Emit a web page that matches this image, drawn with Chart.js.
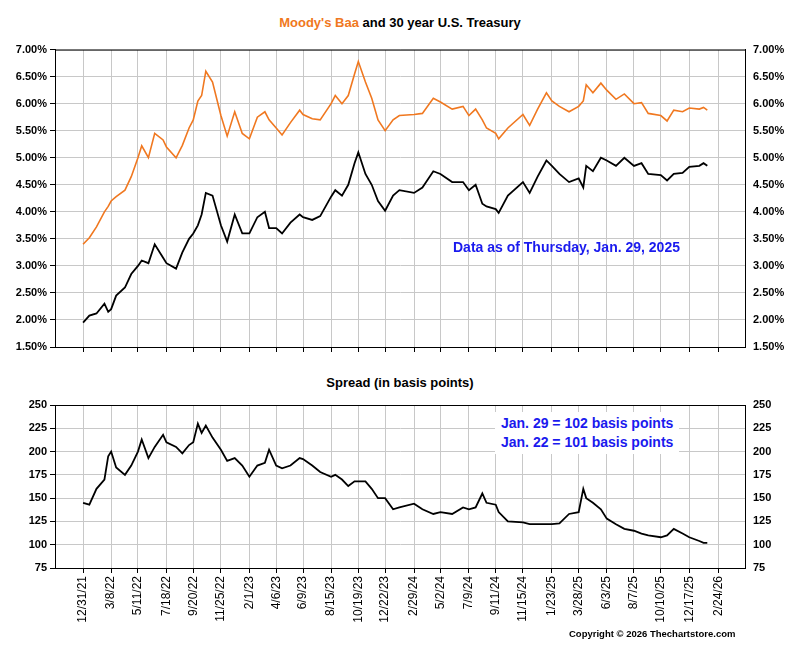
<!DOCTYPE html>
<html><head><meta charset="utf-8">
<script src="https://cdn.jsdelivr.net/npm/chart.js@4"></script>
<style>
body{margin:0;background:#fff;font-family:"Liberation Sans",Arial,sans-serif;}
#wrap{position:relative;width:800px;height:649px;}
canvas{position:absolute;left:0;}
.t{position:absolute;font-weight:bold;white-space:nowrap;}
</style></head><body><div id="wrap">
<div class="t" style="left:0;width:800px;text-align:center;top:15px;font-size:13px;"><span style="color:#f07820">Moody's Baa</span> and 30 year U.S. Treasury</div>
<canvas id="top" width="800" height="320" style="top:40px"></canvas>
<div class="t" style="left:0;width:800px;text-align:center;top:375px;font-size:13px;">Spread (in basis points)</div>
<canvas id="bot" width="800" height="235" style="top:395px"></canvas>
<div class="t" style="left:453px;top:239px;font-size:14px;color:#1a1aee">Data as of Thursday, Jan. 29, 2025</div>
<div class="t" style="left:495px;top:412px;font-size:14px;color:#1a1aee;background:#fff;padding:2px 6px;line-height:19px">Jan. 29 = 102 basis points<br>Jan. 22 = 101 basis points</div>
<div class="t" style="left:569px;top:628px;font-size:9.5px;">Copyright © 2026 Thechartstore.com</div>
</div>
<script>
const tickLabels = ['12/31/21','3/8/22','5/11/22','7/18/22','9/20/22','11/25/22','2/1/23','4/6/23','6/9/23','8/15/23','10/19/23','12/22/23','2/29/24','5/2/24','7/9/24','9/11/24','11/15/24','1/23/25','3/28/25','6/3/25','8/7/25','10/10/25','12/17/25','2/24/26'];

const dates = ['2021-12-31','2022-01-15','2022-02-01','2022-02-20','2022-03-01','2022-03-08','2022-03-20','2022-04-10','2022-04-25','2022-05-11','2022-05-20','2022-06-05','2022-06-20','2022-07-10','2022-07-18','2022-08-10','2022-08-25','2022-09-10','2022-09-20','2022-10-01','2022-10-10','2022-10-20','2022-11-05','2022-11-25','2022-12-10','2022-12-28','2023-01-15','2023-02-01','2023-02-20','2023-03-10','2023-03-20','2023-04-06','2023-04-20','2023-05-10','2023-06-01','2023-06-09','2023-07-01','2023-07-20','2023-08-15','2023-08-25','2023-09-10','2023-09-25','2023-10-10','2023-10-19','2023-11-05','2023-11-20','2023-12-05','2023-12-22','2024-01-10','2024-01-25','2024-02-29','2024-03-20','2024-04-15','2024-05-02','2024-05-30','2024-06-25','2024-07-09','2024-07-25','2024-08-10','2024-08-20','2024-09-11','2024-09-18','2024-10-10','2024-11-15','2024-12-01','2024-12-20','2025-01-10','2025-01-23','2025-02-10','2025-03-05','2025-03-28','2025-04-08','2025-04-15','2025-05-01','2025-05-20','2025-06-03','2025-06-25','2025-07-15','2025-08-07','2025-08-25','2025-09-10','2025-10-10','2025-10-25','2025-11-10','2025-12-01','2025-12-17','2026-01-10','2026-01-20','2026-01-29'];

const treasury = [1.95,2.08,2.12,2.30,2.15,2.20,2.45,2.60,2.85,3.00,3.10,3.05,3.40,3.15,3.05,2.95,3.25,3.50,3.60,3.75,3.95,4.35,4.30,3.75,3.45,3.95,3.60,3.60,3.90,4.00,3.70,3.70,3.60,3.80,3.95,3.90,3.85,3.92,4.28,4.40,4.30,4.50,4.90,5.10,4.70,4.50,4.20,4.02,4.30,4.40,4.35,4.45,4.75,4.70,4.55,4.55,4.40,4.50,4.15,4.10,4.05,3.98,4.30,4.55,4.35,4.65,4.95,4.85,4.70,4.55,4.62,4.45,4.85,4.75,5.00,4.95,4.85,5.00,4.85,4.90,4.70,4.68,4.58,4.70,4.72,4.83,4.85,4.90,4.85];

const baa = [3.40,3.52,3.72,4.00,4.10,4.20,4.28,4.40,4.65,5.00,5.22,5.00,5.45,5.33,5.20,5.00,5.23,5.55,5.70,6.05,6.15,6.60,6.40,5.78,5.40,5.85,5.45,5.35,5.75,5.85,5.70,5.55,5.42,5.65,5.88,5.80,5.72,5.70,6.00,6.15,6.00,6.15,6.55,6.78,6.40,6.10,5.70,5.50,5.70,5.78,5.80,5.82,6.10,6.03,5.90,5.95,5.78,5.90,5.70,5.55,5.45,5.35,5.55,5.80,5.60,5.90,6.20,6.05,5.95,5.85,5.95,6.05,6.35,6.20,6.38,6.25,6.08,6.18,6.00,6.02,5.82,5.78,5.68,5.88,5.85,5.92,5.90,5.93,5.88];

const spread = [145,143,160,170,195,200,183,175,185,200,213,193,205,218,210,205,198,207,210,230,220,228,215,202,190,193,185,173,185,188,202,185,182,185,193,192,185,178,173,175,170,163,168,168,168,160,150,150,138,140,144,138,133,135,133,140,138,140,155,145,143,135,125,124,122,122,122,122,123,133,135,160,150,145,138,128,122,117,115,112,110,108,110,117,112,108,104,102,102];

const DAY0 = Date.UTC(2021, 11, 31);
function dayOf(s) {
  let y, m, d;
  if (s.includes('-')) { [y, m, d] = s.split('-').map(Number); }
  else { [m, d, y] = s.split('/').map(Number); y += 2000; }
  return Math.round((Date.UTC(y, m - 1, d) - DAY0) / 864e5);
}
const tickDays = tickLabels.map(dayOf);
const xs = dates.map(dayOf);
const pts = vals => vals.map((v, i) => ({ x: xs[i], y: v }));

const font = { family: '"Liberation Sans", Arial', size: 11, weight: 'bold' };
const gridCol = '#c8c8c8';

const boxPlugin = {
  id: 'box',
  afterDraw(c) {
    const a = c.chartArea, g = c.ctx;
    g.save(); g.strokeStyle = '#000'; g.lineWidth = 1;
    g.strokeRect(a.left + 0.5, a.top + 0.5, a.width, a.height);
    g.restore();
  }
};

function xAxis(showLabels, height) {
  return {
    type: 'linear', min: -67, max: 1580,
    afterBuildTicks: ax => { ax.ticks = tickDays.map(v => ({ value: v })); },
    afterFit: ax => { ax.height = height; },
    ticks: {
      display: showLabels, autoSkip: false, maxRotation: 90, minRotation: 90,
      color: '#000', font: { family: '"Liberation Sans", Arial', size: 12 },
      callback: v => tickLabels[tickDays.indexOf(v)]
    },
    grid: { color: gridCol, drawTicks: true, tickLength: 5, tickColor: '#000' },
    border: { color: '#000' }
  };
}
function yAxis(pos, min, max, step, fmt) {
  return {
    position: pos, min, max,
    afterFit: ax => { ax.width = 55; },
    ticks: { stepSize: step, color: '#000', font, callback: fmt },
    grid: { display: pos === 'left', color: gridCol, tickColor: '#000', tickLength: 5 },
    border: { color: '#000' }
  };
}

const pct = v => v.toFixed(2) + '%';

new Chart(document.getElementById('top'), {
  type: 'line',
  data: {
    datasets: [
      { data: pts(baa), borderColor: '#f07820', borderWidth: 1.6, pointRadius: 0, tension: 0, yAxisID: 'y' },
      { data: pts(treasury), borderColor: '#000', borderWidth: 1.8, pointRadius: 0, tension: 0, yAxisID: 'y' }
    ]
  },
  options: {
    responsive: false, animation: false,
    layout: { padding: { top: 9 } },
    plugins: { legend: { display: false }, tooltip: { enabled: false } },
    scales: {
      x: xAxis(false, 13),
      y: yAxis('left', 1.5, 7, 0.5, pct),
      y2: yAxis('right', 1.5, 7, 0.5, pct)
    }
  },
  plugins: [boxPlugin]
});

new Chart(document.getElementById('bot'), {
  type: 'line',
  data: {
    datasets: [
      { data: pts(spread), borderColor: '#000', borderWidth: 1.8, pointRadius: 0, tension: 0, yAxisID: 'y' }
    ]
  },
  options: {
    responsive: false, animation: false,
    layout: { padding: { top: 10 } },
    plugins: { legend: { display: false }, tooltip: { enabled: false } },
    scales: {
      x: xAxis(true, 62),
      y: yAxis('left', 75, 250, 25, v => v),
      y2: yAxis('right', 75, 250, 25, v => v)
    }
  },
  plugins: [boxPlugin]
});
</script></body></html>
